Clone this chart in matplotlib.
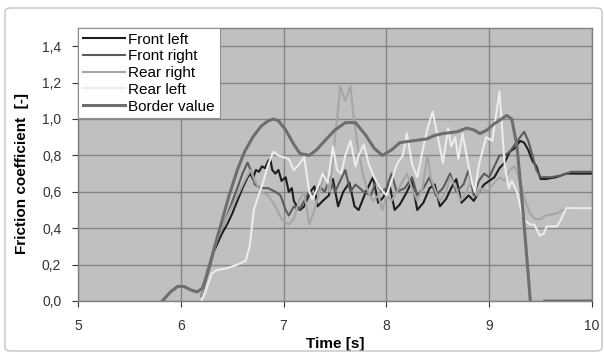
import numpy as np
import matplotlib
matplotlib.use("Agg")
import matplotlib.pyplot as plt
from matplotlib.patches import FancyBboxPatch

plt.rcParams['font.family'] = ['Liberation Sans', 'DejaVu Sans']

nan = np.nan

# ---- data ----
fl_t = [6.2, 6.26, 6.32, 6.4, 6.45, 6.5, 6.55, 6.6, 6.65, 6.68, 6.7, 6.73, 6.76, 6.79, 6.82, 6.85, 6.87,
        6.89, 6.92, 6.95, 6.98, 7.02, 7.05, 7.08, 7.1, 7.13, 7.16, 7.2, 7.26, 7.3, 7.33, 7.38, 7.44, 7.48,
        7.53, 7.58, 7.64, 7.69, 7.73, 7.8, 7.87, 7.92, 7.97, 8.03, 8.08, 8.13, 8.2, 8.25, 8.3, 8.36, 8.42,
        8.47, 8.52, 8.58, 8.63, 8.68, 8.73, 8.8, 8.85, 8.9, 8.95, 9.0, 9.05, 9.1, 9.15, 9.2, 9.25, 9.3,
        9.34, 9.38, 9.42, 9.46, 9.5, 9.55, 9.65, 9.75, 9.85, 10.0]
fl_y = [0.03, 0.15, 0.27, 0.37, 0.42, 0.48, 0.55, 0.62, 0.68, 0.7, 0.67, 0.72, 0.71, 0.74, 0.73, 0.77, 0.78,
        0.72, 0.7, 0.72, 0.66, 0.68, 0.6, 0.62, 0.55, 0.52, 0.5, 0.52, 0.6, 0.63, 0.52, 0.55, 0.58, 0.67,
        0.52, 0.6, 0.65, 0.52, 0.5, 0.6, 0.68, 0.54, 0.57, 0.64, 0.5, 0.53, 0.6, 0.66, 0.5, 0.54, 0.62,
        0.64, 0.52, 0.56, 0.62, 0.67, 0.54, 0.58, 0.55, 0.6, 0.64, 0.66, 0.68, 0.73, 0.76, 0.82, 0.84, 0.88,
        0.87, 0.83, 0.77, 0.74, 0.67, 0.67, 0.68, 0.7, 0.7, 0.7]

fr_t = [6.2, 6.26, 6.33, 6.4, 6.47, 6.55, 6.6, 6.65, 6.68, 6.72, 6.78, 6.85, 6.92, 6.97, 7.02, 7.05, 7.1,
        7.15, 7.2, 7.25, 7.3, 7.35, 7.4, 7.45, 7.5, 7.55, 7.6, 7.65, 7.7, 7.78, 7.85, 7.9, 7.95, 8.0, 8.05,
        8.1, 8.18, 8.25, 8.3, 8.36, 8.42, 8.48, 8.55, 8.62, 8.68, 8.75, 8.8, 8.85, 8.9, 8.95, 9.0, 9.05,
        9.1, 9.15, 9.2, 9.25, 9.3, 9.34, 9.38, 9.42, 9.46, 9.5, 9.6, 9.7, 9.8, 9.9, 10.0]
fr_y = [0.03, 0.17, 0.3, 0.4, 0.5, 0.62, 0.7, 0.76, 0.72, 0.64, 0.62, 0.62, 0.6, 0.58, 0.5, 0.47, 0.52,
        0.5, 0.55, 0.6, 0.58, 0.63, 0.6, 0.68, 0.6, 0.66, 0.72, 0.6, 0.64, 0.6, 0.58, 0.66, 0.6, 0.62, 0.7,
        0.6, 0.62, 0.68, 0.58, 0.62, 0.68, 0.58, 0.62, 0.7, 0.6, 0.64, 0.72, 0.58, 0.66, 0.7, 0.68, 0.74,
        0.8, 0.8, 0.82, 0.86, 0.9, 0.93, 0.88, 0.8, 0.72, 0.68, 0.68, 0.69, 0.71, 0.71, 0.71]

rr_t = [6.2, 6.27, 6.35, 6.42, 6.5, 6.57, 6.63, 6.68, 6.72, 6.78, 6.85, 6.92, 6.98, 7.05, 7.1, 7.15, 7.2,
        7.25, 7.3, 7.35, 7.4, 7.45, 7.5, 7.53, 7.55, 7.6, 7.65, 7.68, 7.72, 7.77, 7.82, 7.87, 7.92, 7.96,
        8.0, 8.05, 8.1, 8.15, 8.2, 8.25, 8.3, 8.35, 8.4, 8.43, 8.48, 8.52, 8.58, 8.62, 8.68, 8.72, 8.78,
        8.82, 8.88, 8.92, 8.98, 9.05, 9.1, 9.15, 9.2, 9.25, 9.3, 9.35, 9.4, 9.45, 9.5, 9.55, 9.65, 9.72,
        9.8, 10.0]
rr_y = [0.03, 0.18, 0.33, 0.43, 0.52, 0.6, 0.67, 0.72, 0.66, 0.6, 0.58, 0.52, 0.45, 0.42, 0.45, 0.55, 0.6,
        0.42, 0.5, 0.6, 0.7, 0.6, 0.9, 1.05, 1.18, 1.1, 1.18, 1.02, 0.85, 0.7, 0.6, 0.55, 0.58, 0.5,
        0.58, 0.55, 0.6, 0.65, 0.7, 0.62, 0.55, 0.62, 0.8, 0.68, 0.6, 0.55, 0.6, 0.68, 0.62, 0.55, 0.6,
        0.66, 0.58, 0.62, 0.6, 0.65, 0.68, 0.66, 0.72, 0.74, 0.66, 0.55, 0.48, 0.45, 0.45, 0.47, 0.48, 0.5,
        0.51, 0.51]

rl_t = [6.2, 6.24, 6.3, 6.35, 6.45, 6.55, 6.63, 6.67, 6.71, 6.75, 6.8, 6.85, 6.9, 6.95, 7.0, 7.05, 7.1,
        7.15, 7.2, 7.25, 7.28, 7.33, 7.38, 7.43, 7.48, 7.52, 7.56, 7.6, 7.65, 7.7, 7.73, 7.78, 7.83, 7.88,
        7.94, 8.0, 8.05, 8.1, 8.16, 8.2, 8.25, 8.3, 8.35, 8.4, 8.45, 8.5, 8.55, 8.6, 8.63, 8.67, 8.7, 8.74,
        8.78, 8.82, 8.86, 8.9, 8.97, 9.03, 9.1, 9.15, 9.19, 9.22, 9.27, 9.33, 9.4, 9.44, 9.49, 9.53, 9.56,
        9.66, 9.7, 9.75, 10.0]
rl_y = [0.0, 0.05, 0.15, 0.17, 0.18, 0.2, 0.22, 0.3, 0.5, 0.57, 0.65, 0.75, 0.82, 0.8, 0.79, 0.78, 0.72,
        0.75, 0.79, 0.6, 0.56, 0.62, 0.7, 0.65, 0.85, 0.72, 0.7, 0.8, 0.88, 0.74, 0.8, 0.86, 0.75, 0.68,
        0.62, 0.58, 0.66, 0.75, 0.8, 0.92, 0.75, 0.68, 0.82, 0.95, 1.04, 0.9, 0.76, 0.95, 0.85, 0.9, 0.78, 0.92,
        0.8, 0.68, 0.6, 0.75, 0.9, 0.88, 1.15, 0.75, 0.62, 0.66, 0.6, 0.45, 0.42, 0.42, 0.36, 0.37, 0.41,
        0.41, 0.45, 0.51, 0.51]

bv_t = [5.82, 5.9, 5.97, 6.03, 6.1, 6.16, 6.21, 6.27, 6.33, 6.4, 6.47, 6.55, 6.62, 6.7, 6.78, 6.85, 6.9,
        6.95, 7.02, 7.1, 7.16, 7.25, 7.32, 7.4, 7.5, 7.6, 7.7, 7.8, 7.88, 7.96, 8.05, 8.13, 8.25, 8.39,
        8.47, 8.55, 8.69, 8.78, 8.85, 8.91, 8.98, 9.04, 9.12, 9.17, 9.22, 9.27, 9.32, 9.36, 9.40, nan,
        9.54, 10.0]
bv_y = [0.0, 0.05, 0.08, 0.08, 0.06, 0.05, 0.07, 0.17, 0.3, 0.44, 0.58, 0.72, 0.82, 0.9, 0.96, 0.99, 1.0,
        0.99, 0.94, 0.86, 0.81, 0.8, 0.83, 0.88, 0.94, 0.98, 0.98, 0.91, 0.84, 0.8, 0.83, 0.87, 0.88, 0.89,
        0.91, 0.92, 0.93, 0.95, 0.94, 0.92, 0.94, 0.97, 1.0, 1.02, 1.0, 0.85, 0.55, 0.28, 0.0, nan,
        0.0, 0.0]

series_names = ["Front left", "Front right", "Rear right", "Rear left", "Border value"]
y_ticks = [0.0, 0.2, 0.4, 0.6, 0.8, 1.0, 1.2, 1.4]
y_ticklabels = ["0,0", "0,2", "0,4", "0,6", "0,8", "1,0", "1,2", "1,4"]
x_ticks = [5, 6, 7, 8, 9, 10]
x_ticklabels = ["5", "6", "7", "8", "9", "10"]

# ---- figure ----
fig = plt.figure(figsize=(6.04, 3.52), dpi=100)
fig.patch.set_facecolor("white")
ax = fig.add_axes([78 / 604, 1 - 301 / 352, (592 - 78) / 604, (301 - 28) / 352])
ax.set_facecolor("#c0c0c0")

# outer chart frame
frame = FancyBboxPatch((5 / 604, 1 / 352), 597 / 604, 343 / 352,
                       boxstyle="round,pad=0,rounding_size=0.01",
                       transform=fig.transFigure, facecolor="none",
                       edgecolor="#c4c4c4", linewidth=1.0, zorder=0)
fig.patches.append(frame)

series = [(fl_t, fl_y, "#1e1e1e", 1.5),
          (fr_t, fr_y, "#5c5c5c", 1.5),
          (rr_t, rr_y, "#a6a6a6", 1.5),
          (rl_t, rl_y, "#ececec", 1.5),
          (bv_t, bv_y, "#6e6e6e", 2.2)]
for (t, y, c, lw), name in zip(series, series_names):
    ax.plot(t, y, color=c, lw=lw, label=name, solid_joinstyle="round")

ax.set_xlim(5, 10)
ax.set_ylim(0, 1.5)
ax.set_xticks(x_ticks)
ax.set_xticklabels(x_ticklabels)
ax.set_yticks(y_ticks)
ax.set_yticklabels(y_ticklabels)
ax.tick_params(axis="both", labelsize=10, colors="#333333", length=4, width=0.8,
               direction="out")
ax.tick_params(axis="y", pad=8)
ax.tick_params(axis="x", pad=9)
ax.grid(True, color="#858585", lw=1.0)
ax.set_axisbelow(True)
for s in ax.spines.values():
    s.set_color("#808080")
    s.set_linewidth(1.0)

ax.set_xlabel("Time [s]", fontsize=11, fontweight="bold", labelpad=3)
fig.text(22 / 604, 1 - 173 / 352, "Friction coefficient  [-]", rotation=90,
         fontsize=11, fontweight="bold", ha="center", va="center")

leg = ax.legend(loc="upper left", bbox_to_anchor=(0, 1), fontsize=11, frameon=True,
                fancybox=False, framealpha=1, edgecolor="#909090", borderaxespad=0,
                handlelength=2.8, labelspacing=0.18, handletextpad=0.2, borderpad=0.3)
leg.get_frame().set_linewidth(0.8)

fig.savefig("out.png", dpi=100, facecolor="white")
